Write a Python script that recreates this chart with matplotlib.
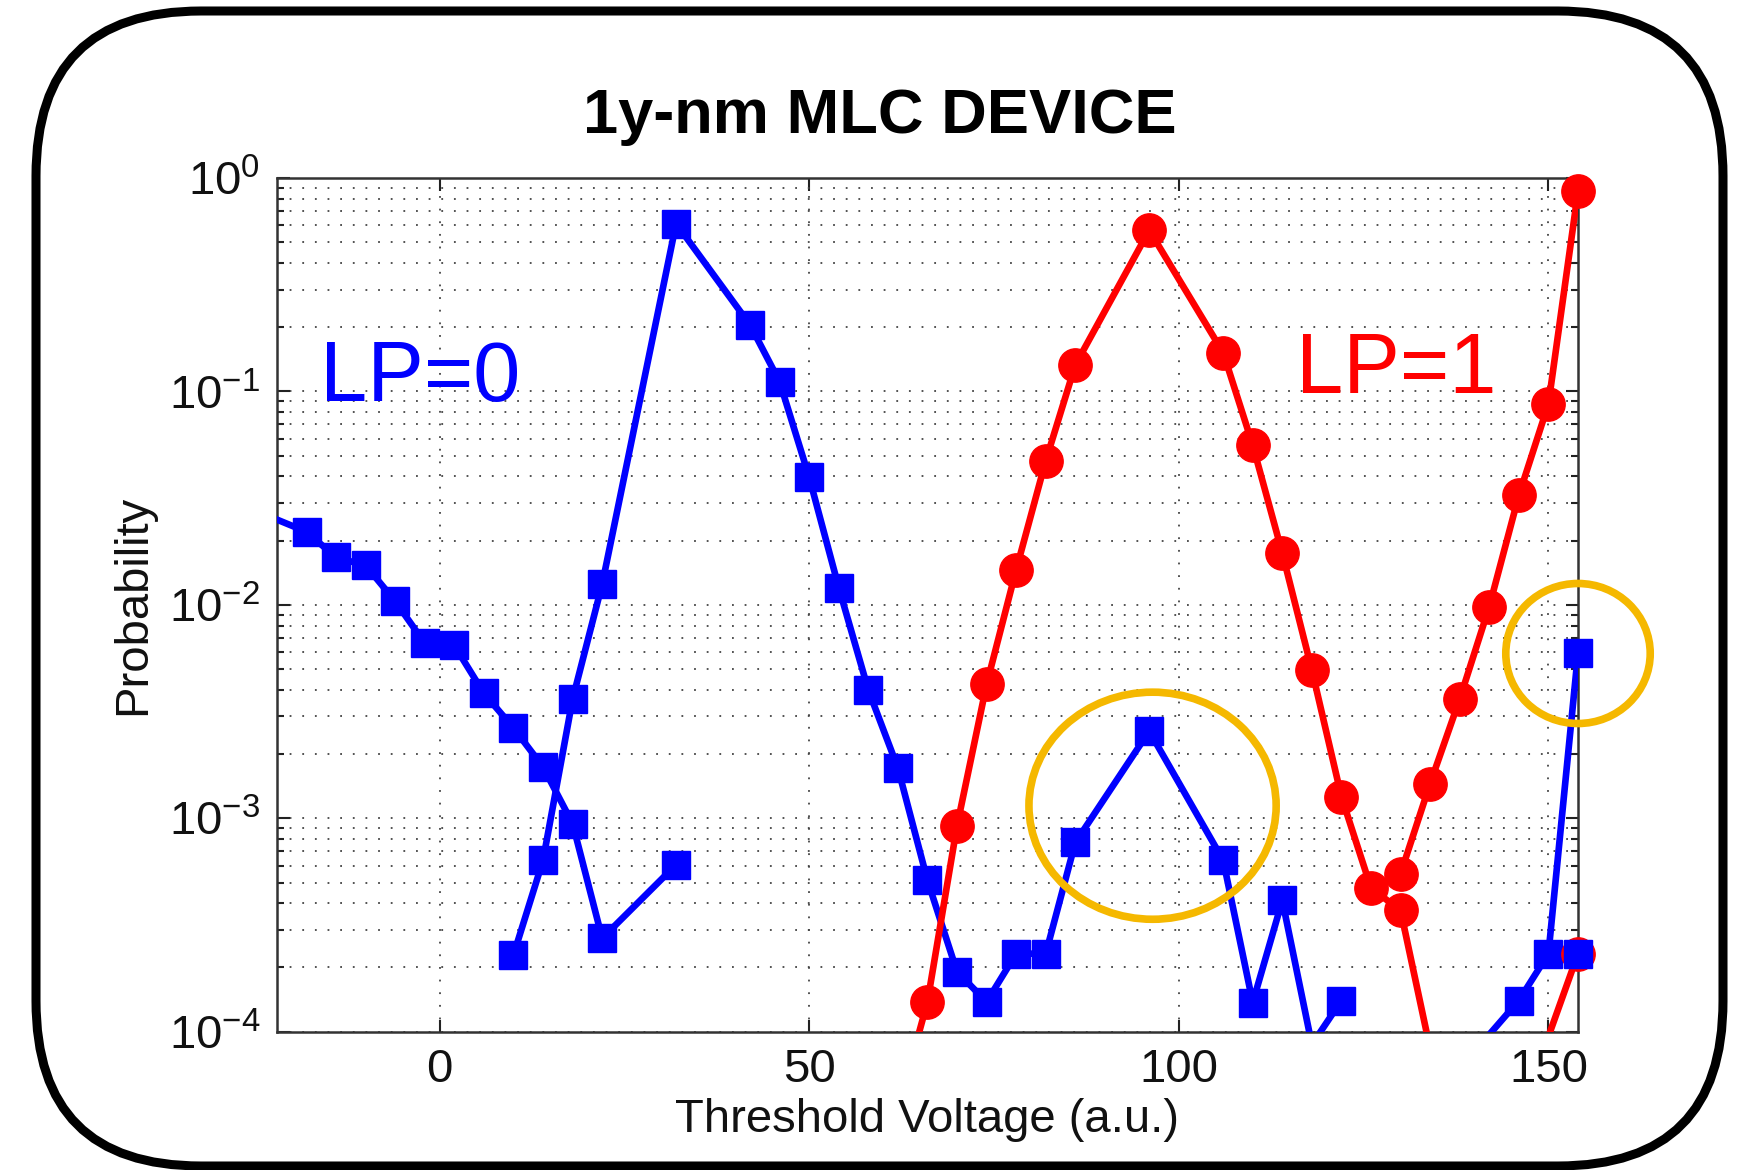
import numpy as np
import matplotlib
matplotlib.use("Agg")
import matplotlib.pyplot as plt
from matplotlib.patches import FancyBboxPatch, Ellipse
from matplotlib.transforms import Affine2D

plt.rcParams['font.family'] = ['Liberation Sans', 'DejaVu Sans']
plt.rcParams['mathtext.fontset'] = 'custom'
plt.rcParams['mathtext.rm'] = 'Liberation Sans'
plt.rcParams['mathtext.it'] = 'Liberation Sans:italic'
plt.rcParams['mathtext.bf'] = 'Liberation Sans:bold'

# ---------------- data (probability vs threshold voltage) ----------------
# LP=0 (blue) : tail of erased state
blue_a_x = [-26, -18, -14, -10, -6, -2, 2, 6, 10, 14, 18, 22, 32]
blue_a_y = [0.0286, 0.0220, 0.01667, 0.0153, 0.0104, 0.00661, 0.00645, 0.00385,
            0.00265, 0.00174, 9.44e-4, 2.74e-4, 6.06e-4]
# LP=0 (blue) : main state distribution (0 = no count)
blue_b_x = [10, 14, 18, 22, 32, 42, 46, 50, 54, 58, 62, 66, 70, 74, 78, 82, 86, 96,
            106, 110, 114, 118, 122, 126, 130, 134, 138, 142, 146, 150, 154]
blue_b_y = [2.29e-4, 6.36e-4, 3.62e-3, 1.25e-2, 0.611, 0.205, 0.111, 0.0396, 0.01205,
            0.00399, 0.00172, 5.12e-4, 1.91e-4, 1.38e-4, 2.32e-4, 2.32e-4, 7.7e-4,
            2.56e-3, 6.36e-4, 1.37e-4, 4.12e-4, 8.7e-5, 1.4e-4, 0, 0, 0, 0, 9.7e-5,
            1.4e-4, 2.32e-4, 5.93e-3]
blue_c_x = [154]
blue_c_y = [2.32e-4]
# LP=1 (red)
red_a_x = [62, 66, 70, 74, 78, 82, 86, 96, 106, 110, 114, 118, 122, 126, 130, 134]
red_a_y = [4.3e-5, 1.38e-4, 9.22e-4, 4.24e-3, 0.0146, 0.0473, 0.133, 0.569, 0.152,
           0.056, 0.01747, 0.00495, 0.00126, 4.71e-4, 3.7e-4, 8.3e-5]
red_b_x = [130, 134, 138, 142, 146, 150, 154]
red_b_y = [5.5e-4, 1.455e-3, 3.62e-3, 9.82e-3, 0.0326, 0.0874, 0.866]
red_c_x = [150, 154]
red_c_y = [9.5e-5, 2.32e-4]

x_ticks = [0, 50, 100, 150]
x_min, x_max = -22, 154
y_min, y_max = 1e-4, 1.0

W, H = 1745, 1170
fig = plt.figure(figsize=(W / 100, H / 100), dpi=100)
ax = fig.add_axes([0.1587, 0.1182, 0.9043 - 0.1587, 0.8479 - 0.1182])

blue = '#0000FF'
red = '#FF0000'
lw = 4.8


def series(x, y, color, marker, ms, z):
    x = np.asarray(x, dtype=float)
    y = np.asarray(y, dtype=float)
    line_y = np.where(y > 0, y, np.nan)            # zero counts -> gap (log axis)
    inside = (y >= y_min) & (x >= x_min) & (x <= x_max)
    mark_y = np.where(inside, y, np.nan)           # markers only inside the axis range
    ax.plot(x, line_y, '-', color=color, lw=lw, zorder=z)
    ax.plot(x, mark_y, ls='none', marker=marker, ms=ms, color=color, mec=color,
            mew=1, zorder=z, clip_on=False)


series(blue_a_x, blue_a_y, blue, 's', 20.5, 3)
series(blue_b_x, blue_b_y, blue, 's', 20.5, 3)
series(red_a_x, red_a_y, red, 'o', 24, 4)
series(red_b_x, red_b_y, red, 'o', 24, 4)
series(red_c_x, red_c_y, red, 'o', 24, 4)
series(blue_c_x, blue_c_y, blue, 's', 20.5, 5)

ax.set_yscale('log')
ax.set_xlim(x_min, x_max)
ax.set_ylim(y_min, y_max)
ax.set_xticks(x_ticks)

ax.grid(True, which='major', ls=(0, (1, 6)), color='#444444', lw=1.3)
ax.grid(True, which='minor', axis='y', ls=(0, (1, 6)), color='#444444', lw=1.3)
ax.tick_params(which='both', direction='in', top=True, right=True, width=1.5,
               labelsize=34, color='#222222', labelcolor='#111111')
ax.tick_params(which='major', length=9)
ax.tick_params(which='minor', length=5)
ax.tick_params(axis='x', pad=12)
ax.tick_params(axis='y', pad=12)
for s in ax.spines.values():
    s.set_linewidth(1.8)
    s.set_color('#333333')

ax.set_xlabel('Threshold Voltage (a.u.)', fontsize=34, labelpad=4, color='#111111')
ax.set_ylabel('Probability', fontsize=34, labelpad=10, color='#111111')

ax.text(0.0334, 0.739, 'LP=0', transform=ax.transAxes, color=blue, fontsize=61,
        va='baseline', ha='left')
ax.text(0.7836, 0.748, 'LP=1', transform=ax.transAxes, color=red, fontsize=61,
        va='baseline', ha='left')

gold = '#F5B800'
ax.add_patch(Ellipse((0.673, 0.2647), 0.190, 0.266, transform=ax.transAxes,
                     fill=False, ec=gold, lw=5.5, clip_on=False, zorder=6))
ax.add_patch(Ellipse((1.0, 0.443), 0.111, 0.164, transform=ax.transAxes,
                     fill=False, ec=gold, lw=5.5, clip_on=False, zorder=6))

fig.text(0.504, 0.886, '1y-nm MLC DEVICE', fontsize=45.5, fontweight='bold',
         ha='center', va='baseline')

tr = Affine2D().scale(1 / W, 1 / H) + fig.transFigure
box = FancyBboxPatch((36, 4), 1723 - 36, 1159 - 4,
                     boxstyle="round,pad=0,rounding_size=165",
                     transform=tr, fill=False, lw=6.5, ec='black')
fig.add_artist(box)

fig.savefig('out.png', dpi=100)
